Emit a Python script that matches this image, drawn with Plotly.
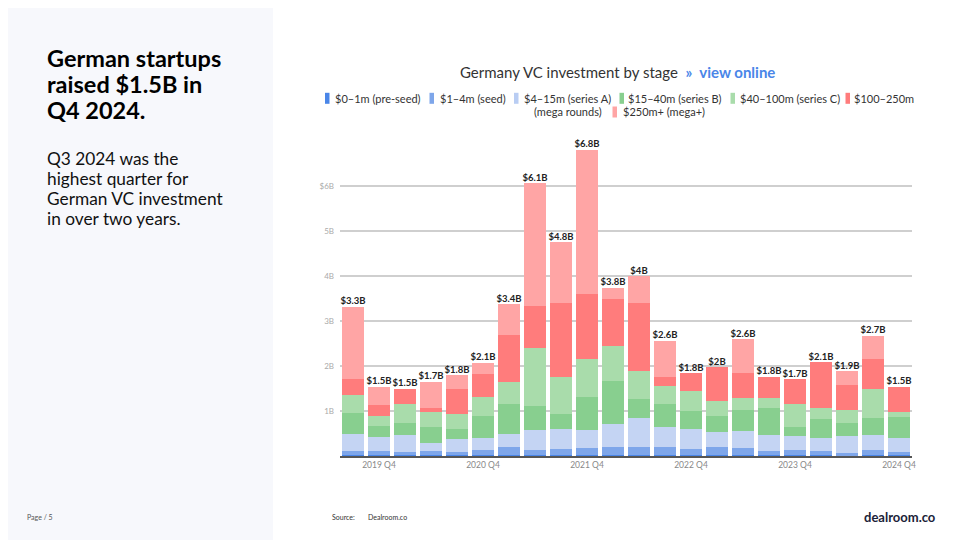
import plotly.graph_objects as go

quarters = ["2019 Q3", "2019 Q4", "2020 Q1", "2020 Q2", "2020 Q3", "2020 Q4",
            "2021 Q1", "2021 Q2", "2021 Q3", "2021 Q4", "2022 Q1", "2022 Q2",
            "2022 Q3", "2022 Q4", "2023 Q1", "2023 Q2", "2023 Q3", "2023 Q4",
            "2024 Q1", "2024 Q2", "2024 Q3", "2024 Q4"]

# values in $B
pre_seed = [0.02, 0.02, 0.02, 0.02, 0.02, 0.02, 0.03, 0.02, 0.02, 0.03, 0.03,
            0.03, 0.03, 0.02, 0.03, 0.02, 0.02, 0.02, 0.02, 0.01, 0.02, 0.02]
seed = [0.09, 0.09, 0.07, 0.09, 0.08, 0.11, 0.18, 0.11, 0.13, 0.14, 0.16,
        0.16, 0.17, 0.13, 0.18, 0.15, 0.10, 0.12, 0.09, 0.06, 0.11, 0.08]
series_a = [0.37, 0.31, 0.38, 0.17, 0.27, 0.28, 0.28, 0.45, 0.44, 0.41, 0.52,
            0.65, 0.44, 0.45, 0.32, 0.39, 0.35, 0.31, 0.28, 0.37, 0.34, 0.31]
series_b = [0.47, 0.25, 0.26, 0.36, 0.24, 0.49, 0.67, 0.53, 0.34, 0.74, 0.96,
            0.43, 0.52, 0.40, 0.37, 0.46, 0.60, 0.20, 0.43, 0.29, 0.38, 0.46]
series_c = [0.41, 0.22, 0.43, 0.34, 0.33, 0.42, 0.49, 1.29, 0.82, 0.83, 0.78,
            0.62, 0.40, 0.45, 0.32, 0.28, 0.23, 0.50, 0.25, 0.29, 0.64, 0.11]
mega = [0.35, 0.24, 0.34, 0.09, 0.56, 0.50, 1.04, 0.93, 1.64, 1.45, 1.05,
        1.52, 0.19, 0.39, 0.76, 0.54, 0.46, 0.56, 1.02, 0.56, 0.67, 0.56]
mega_plus = [1.61, 0.41, 0.00, 0.58, 0.29, 0.25, 0.69, 2.73, 1.36, 3.21, 0.24,
             0.58, 0.81, 0.00, 0.00, 0.75, 0.00, 0.00, 0.00, 0.31, 0.51, 0.00]

total_labels = ["$3.3B", "$1.5B", "$1.5B", "$1.7B", "$1.8B", "$2.1B", "$3.4B",
                "$6.1B", "$4.8B", "$6.8B", "$3.8B", "$4B", "$2.6B", "$1.8B",
                "$2B", "$2.6B", "$1.8B", "$1.7B", "$2.1B", "$1.9B", "$2.7B",
                "$1.5B"]

series_names = ["$0–1m (pre-seed)", "$1–4m (seed)", "$4–15m (series A)",
                "$15–40m (series B)", "$40–100m (series C)",
                "$100–250m (mega rounds)", "$250m+ (mega+)"]
series_values = [pre_seed, seed, series_a, series_b, series_c, mega, mega_plus]
series_colors = ["#4a86e8", "#7ea6ea", "#c4d4f3", "#88cf8f", "#a9dcab",
                 "#ff7c7c", "#ffa5a5"]

x_tick_vals = ["2019 Q4", "2020 Q4", "2021 Q4", "2022 Q4", "2023 Q4", "2024 Q4"]
y_tick_vals = [1, 2, 3, 4, 5, 6]
y_tick_text = ["1B", "2B", "3B", "4B", "5B", "$6B"]

heading_lines = ["German startups", "raised $1.5B in", "Q4 2024."]
paragraph_lines = ["Q3 2024 was the", "highest quarter for",
                   "German VC investment", "in over two years."]

FONT = "Lato"

# The page body has an 8px margin, so the figure is 952x532 and all
# screen positions below are converted with an 8px offset.
OFF = 8
W, H = 960 - OFF, 540 - OFF
L, R, T, B = 340 - OFF, 48, 132 - OFF, 84
PW, PH = W - L - R, H - T - B


def px(x):
    return (x - OFF - L) / PW


def py(y):
    return (H - B - (y - OFF)) / PH


fig = go.Figure()
for name, vals, col in zip(series_names, series_values, series_colors):
    fig.add_trace(go.Bar(x=quarters, y=vals, name=name, marker_color=col,
                         marker_line_width=0, showlegend=False,
                         hoverinfo="skip"))

totals = [sum(v) for v in zip(*series_values)]
fig.add_trace(go.Scatter(x=quarters, y=totals, mode="text", text=total_labels,
                         textposition="top center", showlegend=False,
                         textfont=dict(family=FONT, size=9.5, color="#222222",
                                       weight="bold"),
                         hoverinfo="skip"))

shapes = [dict(type="rect", xref="paper", yref="paper", x0=px(0), x1=px(273),
               y0=py(560), y1=py(-20), fillcolor="#f7f8fc", line_width=0,
               layer="below")]
annotations = []


def text_at(x, y, text, size, color, anchor="left", bold=False):
    annotations.append(dict(
        xref="paper", yref="paper", x=px(x), y=py(y), xanchor=anchor,
        yanchor="middle", showarrow=False,
        text=f"<b>{text}</b>" if bold else text,
        font=dict(family=FONT, size=size, color=color)))


# title
text_at(617, 72,
        "Germany VC investment by stage  <b><span style='color:#4a86e8'>»  view online</span></b>",
        15, "#333333", anchor="center")

# custom legend (flows over two lines as in the original)
legend_items = [
    (325, 332.7, 98.3, "$0–1m (pre-seed)", series_colors[0]),
    (429.5, 437.7, 98.3, "$1–4m (seed)", series_colors[1]),
    (514, 522, 98.3, "$4–15m (series A)", "#b9cdf3"),
    (619.5, 626, 98.3, "$15–40m (series B)", series_colors[3]),
    (730.5, 737.7, 98.3, "$40–100m (series C)", series_colors[4]),
    (845.5, 852.3, 98.3, "$100–250m", series_colors[5]),
    (None, 531.7, 112, "(mega rounds)", None),
    (612.5, 620.7, 112, "$250m+ (mega+)", series_colors[6]),
]
for sx, tx, ty, label, col in legend_items:
    if sx is not None:
        shapes.append(dict(type="rect", xref="paper", yref="paper",
                           x0=px(sx), x1=px(sx + 4.5), y0=py(ty + 5.5),
                           y1=py(ty - 5.5), fillcolor=col, line_width=0))
    text_at(tx, ty, label, 11, "#333333")

# left panel text
for i, line in enumerate(heading_lines):
    text_at(45, 58 + 26 * i, line, 23.5, "#000000", bold=True)
for i, line in enumerate(paragraph_lines):
    text_at(45, 158.5 + 20 * i, line, 17.3, "#111111")

# footer
text_at(330, 517, "Source:", 7, "#333333")
text_at(366, 517, "Dealroom.co", 7, "#333333")
text_at(938, 517, "dealroom.co", 13, "#1b2238", anchor="right", bold=True)
text_at(25, 517, "Page / 5", 7, "#555555")

fig.update_layout(
    width=W, height=H,
    margin=dict(l=L, r=R, t=T, b=B, pad=0),
    paper_bgcolor="#ffffff", plot_bgcolor="#ffffff",
    barmode="stack", bargap=0.14,
    showlegend=False,
    shapes=shapes, annotations=annotations,
    font=dict(family=FONT),
    xaxis=dict(type="category", tickmode="array", tickvals=x_tick_vals,
               ticktext=x_tick_vals, showgrid=False, showline=True,
               linecolor="#555555", linewidth=1.5, ticks="",
               tickfont=dict(family=FONT, size=8.5, color="#888888"),
               range=[-0.5, len(quarters) - 0.5], fixedrange=True),
    yaxis=dict(range=[0, 7.2], tickmode="array", tickvals=y_tick_vals,
               ticktext=y_tick_text, showgrid=True, gridcolor="#cfcfcf",
               gridwidth=1.5, zeroline=False, showline=False, ticks="",
               ticklabelstandoff=5,
               tickfont=dict(family=FONT, size=8, color="#aaaaaa"),
               fixedrange=True),
)

fig.write_html("out.html")
